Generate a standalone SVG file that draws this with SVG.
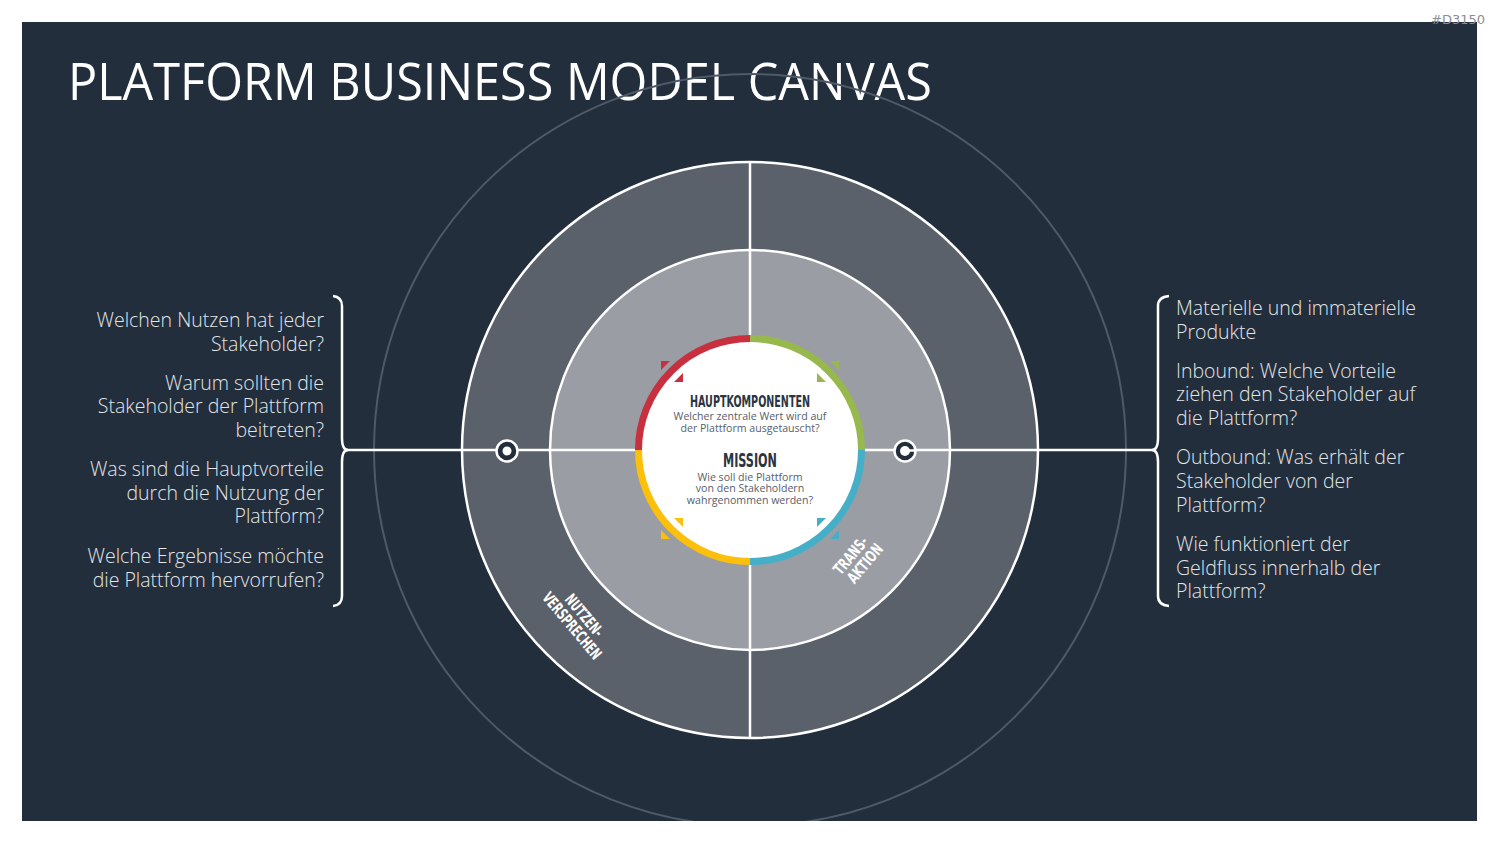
<svg xmlns="http://www.w3.org/2000/svg" width="1500" height="844" viewBox="0 0 1500 844">
<style>
.q{font-family:"Open Sans","Liberation Sans",sans-serif;font-weight:300;font-size:19.5px;fill:#e3e5e8}
.hd{font-family:"Liberation Sans Narrow","DejaVu Sans Condensed","Liberation Sans",sans-serif;font-weight:bold;fill:#2b3542}
.sub{font-family:"Open Sans","Liberation Sans",sans-serif;font-size:10.6px;fill:#58606b}
.rot{font-family:"Liberation Sans Narrow","DejaVu Sans Condensed","Liberation Sans",sans-serif;font-weight:bold;font-size:16px;fill:#ffffff}
.wl{stroke:#ffffff;stroke-width:2.5;fill:none}
.tri{stroke:none}
</style>
<defs>
<clipPath id="bg"><rect x="22" y="22" width="1455" height="799"/></clipPath>
</defs>
<rect x="0" y="0" width="1500" height="844" fill="#ffffff"/>
<rect x="22" y="22" width="1455" height="799" fill="#222e3c"/>
<text x="1485" y="24" text-anchor="end" font-family="DejaVu Sans,sans-serif" font-size="13" fill="#8a8e94">#D3150</text>
<text x="68" y="100" font-family="Open Sans,Liberation Sans,sans-serif" font-size="52" fill="#ffffff" textLength="864" lengthAdjust="spacingAndGlyphs">PLATFORM BUSINESS MODEL CANVAS</text>

<g id="outer-circle" clip-path="url(#bg)"><circle cx="750" cy="450" r="376" fill="none" stroke="#4f5968" stroke-width="2"/></g>

<g id="rings">
<circle cx="750" cy="450" r="288" fill="#5b616b"/>
<circle cx="750" cy="450" r="200" fill="#9a9ea4"/>
</g>

<g id="connectors">
<line x1="345" y1="450" x2="1153" y2="450" class="wl"/>
<line x1="750" y1="162" x2="750" y2="738" class="wl"/>
<path class="wl" d="M333 296 Q342 297 342 306 L342 438 Q342 450 348 450 Q342 450 342 462 L342 596 Q342 605 333 606"/>
<path class="wl" d="M1169 296 Q1158 297 1158 306 L1158 438 Q1158 450 1152 450 Q1158 450 1158 462 L1158 596 Q1158 605 1169 606"/>
</g>

<g id="ring-outlines">
<circle cx="750" cy="450" r="288" class="wl"/>
<circle cx="750" cy="450" r="200" class="wl"/>
</g>

<g id="nutzenversprechen">
<text class="rot" transform="translate(580,619) rotate(50)"><tspan x="-25" y="0" textLength="50" lengthAdjust="spacingAndGlyphs">NUTZEN-</tspan><tspan x="-41" y="16" textLength="82" lengthAdjust="spacingAndGlyphs">VERSPRECHEN</tspan></text>
</g>
<g id="transaktion">
<text class="rot" transform="translate(855,559) rotate(-50)"><tspan x="-22" y="0" textLength="44" lengthAdjust="spacingAndGlyphs">TRANS-</tspan><tspan x="-20" y="16" textLength="46" lengthAdjust="spacingAndGlyphs">AKTION</tspan></text>
</g>

<g id="center">
<circle cx="750" cy="450" r="109" fill="#ffffff"/>
<path d="M638.5 450 A111.5 111.5 0 0 1 750 338.5" stroke="#c8303f" stroke-width="7" fill="none"/>
<path d="M750 338.5 A111.5 111.5 0 0 1 861.5 450" stroke="#97b84c" stroke-width="7" fill="none"/>
<path d="M861.5 450 A111.5 111.5 0 0 1 750 561.5" stroke="#46afc8" stroke-width="7" fill="none"/>
<path d="M750 561.5 A111.5 111.5 0 0 1 638.5 450" stroke="#fbbf0c" stroke-width="7" fill="none"/>
<polygon class="tri" fill="#c8303f" points="661,361 670,361 661,370"/>
<polygon class="tri" fill="#c8303f" points="683,373 683,382 674,382"/>
<polygon class="tri" fill="#97b84c" points="839,361 830,361 839,370"/>
<polygon class="tri" fill="#97b84c" points="817,373 817,382 826,382"/>
<polygon class="tri" fill="#fbbf0c" points="661,539 670,539 661,530"/>
<polygon class="tri" fill="#fbbf0c" points="683,527 683,518 674,518"/>
<polygon class="tri" fill="#46afc8" points="839,539 830,539 839,530"/>
<polygon class="tri" fill="#46afc8" points="817,527 817,518 826,518"/>
<text class="hd" x="750" y="407" text-anchor="middle" font-size="16" textLength="120" lengthAdjust="spacingAndGlyphs">HAUPTKOMPONENTEN</text>
<text class="sub" text-anchor="middle"><tspan x="750" y="419.5">Welcher zentrale Wert wird auf</tspan><tspan x="750" y="431.5">der Plattform ausgetauscht?</tspan></text>
<text class="hd" x="750" y="467" text-anchor="middle" font-size="20" textLength="54" lengthAdjust="spacingAndGlyphs">MISSION</text>
<text class="sub" text-anchor="middle"><tspan x="750" y="480.5">Wie soll die Plattform</tspan><tspan x="750" y="492">von den Stakeholdern</tspan><tspan x="750" y="503.5">wahrgenommen werden?</tspan></text>
</g>

<g id="target-left">
<circle cx="507" cy="451" r="10.5" fill="#222e3c" stroke="#ffffff" stroke-width="2.5"/>
<circle cx="507" cy="451" r="4.5" fill="#ffffff"/>
</g>
<g id="target-right">
<circle cx="905" cy="451" r="10.5" fill="#222e3c" stroke="#ffffff" stroke-width="2.5"/>
<line x1="905" y1="450.5" x2="916" y2="450.5" stroke="#ffffff" stroke-width="2.5"/>
<circle cx="905" cy="451" r="5" fill="#ffffff"/>
</g>

<g id="left-questions">
<text class="q" text-anchor="end"><tspan x="324" y="327">Welchen Nutzen hat jeder</tspan><tspan x="324" y="351">Stakeholder?</tspan></text>
<text class="q" text-anchor="end"><tspan x="324" y="390">Warum sollten die</tspan><tspan x="324" y="413">Stakeholder der Plattform</tspan><tspan x="324" y="437">beitreten?</tspan></text>
<text class="q" text-anchor="end"><tspan x="324" y="476">Was sind die Hauptvorteile</tspan><tspan x="324" y="500">durch die Nutzung der</tspan><tspan x="324" y="523">Plattform?</tspan></text>
<text class="q" text-anchor="end"><tspan x="324" y="563">Welche Ergebnisse möchte</tspan><tspan x="324" y="587">die Plattform hervorrufen?</tspan></text>
</g>
<g id="right-questions">
<text class="q"><tspan x="1176" y="315">Materielle und immaterielle</tspan><tspan x="1176" y="339">Produkte</tspan></text>
<text class="q"><tspan x="1176" y="378">Inbound: Welche Vorteile</tspan><tspan x="1176" y="401">ziehen den Stakeholder auf</tspan><tspan x="1176" y="425">die Plattform?</tspan></text>
<text class="q"><tspan x="1176" y="464">Outbound: Was erhält der</tspan><tspan x="1176" y="488">Stakeholder von der</tspan><tspan x="1176" y="512">Plattform?</tspan></text>
<text class="q"><tspan x="1176" y="551">Wie funktioniert der</tspan><tspan x="1176" y="575">Geldfluss innerhalb der</tspan><tspan x="1176" y="598">Plattform?</tspan></text>
</g>
</svg>
